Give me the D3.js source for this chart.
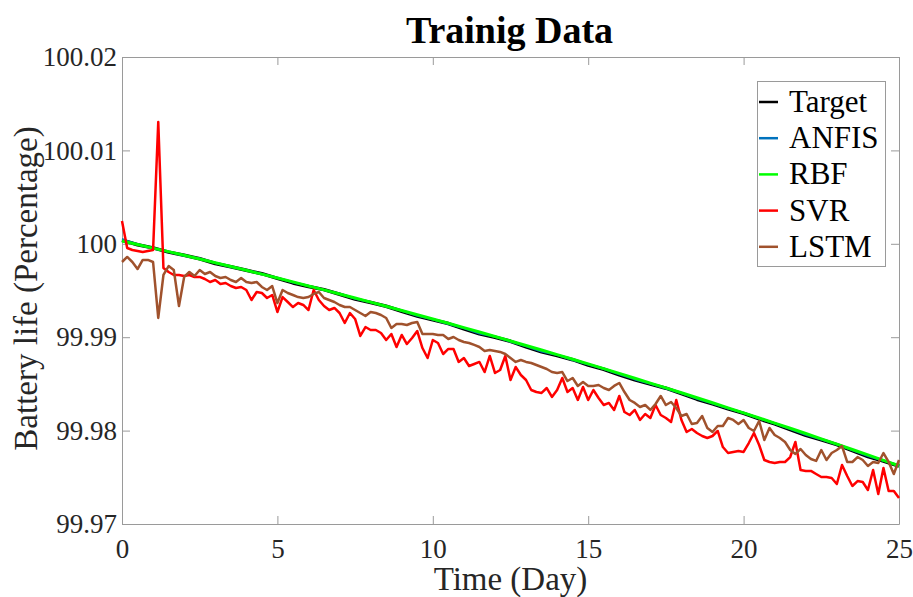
<!DOCTYPE html>
<html>
<head>
<meta charset="utf-8">
<script src="https://cdn.jsdelivr.net/npm/d3@7"></script>
<style>
  html, body { margin: 0; padding: 0; background: #fff; }
  svg { display: block; }
  text { font-family: "Liberation Serif", "Times New Roman", serif; }
</style>
</head>
<body>
<svg id="chart" width="913" height="597"></svg>
<script>
// ---- data -------------------------------------------------------------
const seriesNames = ["Target", "ANFIS", "RBF", "SVR", "LSTM"];
const seriesColors = ["#000000", "#0072bd", "#00ff00", "#ff0000", "#a0522d"];

const xTicks = [0, 5, 10, 15, 20, 25];
const yTicks = [99.97, 99.98, 99.99, 100, 100.01, 100.02];

// half-day samples for the smooth curves
const coarseDays = d3.range(51).map(i => i * 0.5);
// four-hour samples for SVR / LSTM
const fineDays = d3.range(151).map(i => i / 6);

const target = [100.0004, 99.99990, 99.99956, 99.99911, 99.99877, 99.99840, 99.99789, 99.99755, 99.99716, 99.99680,
  99.99630, 99.99581, 99.99543, 99.99509, 99.99460, 99.99408, 99.99371, 99.99331, 99.99278, 99.99226,
  99.99185, 99.99146, 99.99090, 99.99037, 99.99000, 99.98956, 99.98897, 99.98843, 99.98803, 99.98759,
  99.98702, 99.98657, 99.98597, 99.98543, 99.98497, 99.98454, 99.98395, 99.98336, 99.98286, 99.98232,
  99.98185, 99.98125, 99.98072, 99.98010, 99.97949, 99.97902, 99.97849, 99.97786, 99.97722, 99.97674, 99.97619];

const anfis = [100.0005, 99.99995, 99.99950, 99.99915, 99.99872, 99.99842, 99.99795, 99.99752, 99.99720, 99.99676,
  99.99635, 99.99585, 99.99547, 99.99505, 99.99466, 99.99412, 99.99375, 99.99328, 99.99284, 99.99230,
  99.99190, 99.99142, 99.99095, 99.99040, 99.99004, 99.98952, 99.98902, 99.98847, 99.98808, 99.98755,
  99.98708, 99.98660, 99.98602, 99.98548, 99.98501, 99.98450, 99.98400, 99.98340, 99.98290, 99.98236,
  99.98188, 99.98130, 99.98076, 99.98016, 99.97955, 99.97905, 99.97852, 99.97790, 99.97728, 99.97678, 99.97622];

const rbf = [100.0003, 99.99992, 99.99954, 99.99916, 99.99877, 99.99837, 99.99797, 99.99757, 99.99716, 99.99675,
  99.99634, 99.99592, 99.99549, 99.99507, 99.99463, 99.99420, 99.99376, 99.99331, 99.99286, 99.99241,
  99.99195, 99.99149, 99.99102, 99.99055, 99.99008, 99.98960, 99.98911, 99.98863, 99.98813, 99.98764,
  99.98714, 99.98663, 99.98612, 99.98561, 99.98509, 99.98457, 99.98405, 99.98352, 99.98298, 99.98244,
  99.98190, 99.98135, 99.98080, 99.98025, 99.97969, 99.97912, 99.97855, 99.97798, 99.97740, 99.97682, 99.97624];

const svr = [100.00244, 99.99955, 99.99934, 99.99923, 99.99912, 99.99923, 99.99934, 100.01304, 99.99741, 99.99698,
  99.99666, 99.99666, 99.99655, 99.99666, 99.99645, 99.99645, 99.99623, 99.99591, 99.99612, 99.99570,
  99.99580, 99.99548, 99.99527, 99.99538, 99.99505, 99.99398, 99.99484, 99.99473, 99.99420, 99.99452,
  99.99270, 99.99430, 99.99377, 99.99323, 99.99366, 99.99345, 99.99291, 99.99505, 99.99398, 99.99334,
  99.99291, 99.99313, 99.99259, 99.99152, 99.99259, 99.99195, 99.99013, 99.99109, 99.99077, 99.99077,
  99.99045, 99.98970, 99.99034, 99.98895, 99.99024, 99.98927, 99.98991, 99.99066, 99.98884, 99.98777,
  99.98970, 99.98938, 99.98820, 99.98874, 99.98874, 99.98735, 99.98777, 99.98692, 99.98713, 99.98735,
  99.98627, 99.98799, 99.98617, 99.98649, 99.98799, 99.98542, 99.98681, 99.98595, 99.98542, 99.98435,
  99.98413, 99.98403, 99.98456, 99.98360, 99.98435, 99.98563, 99.98413, 99.98456, 99.98328, 99.98467,
  99.98328, 99.98435, 99.98349, 99.98274, 99.98296, 99.98221, 99.98371, 99.98199, 99.98167, 99.98221,
  99.98114, 99.98178, 99.98135, 99.98274, 99.98167, 99.98135, 99.98092, 99.98328, 99.98114, 99.97985,
  99.98017, 99.97974, 99.97942, 99.97921, 99.97942, 99.97996, 99.97824, 99.97760, 99.97771, 99.97782,
  99.97771, 99.97867, 99.97974, 99.97846, 99.97685, 99.97664, 99.97653, 99.97664, 99.97664, 99.97717,
  99.97878, 99.97578, 99.97568, 99.97568, 99.97535, 99.97503, 99.97503, 99.97493, 99.97428, 99.97632,
  99.97514, 99.97407, 99.97460, 99.97450, 99.97364, 99.97578, 99.97321, 99.97600, 99.97353, 99.97353, 99.97278];

const lstm = [99.99805, 99.99859, 99.99805, 99.99730, 99.99827, 99.99827, 99.99805, 99.99206, 99.99666, 99.99762,
  99.99719, 99.99334, 99.99645, 99.99698, 99.99655, 99.99719, 99.99677, 99.99698, 99.99655, 99.99634,
  99.99645, 99.99612, 99.99591, 99.99634, 99.99591, 99.99580, 99.99591, 99.99538, 99.99505, 99.99548,
  99.99366, 99.99505, 99.99473, 99.99452, 99.99430, 99.99420, 99.99430, 99.99463, 99.99484, 99.99420,
  99.99398, 99.99377, 99.99345, 99.99323, 99.99323, 99.99291, 99.99259, 99.99227, 99.99270, 99.99259,
  99.99238, 99.99206, 99.99099, 99.99141, 99.99141, 99.99131, 99.99152, 99.99163, 99.99034, 99.99034,
  99.99034, 99.99024, 99.99024, 99.98981, 99.99002, 99.98970, 99.98949, 99.98938, 99.98917, 99.98895,
  99.98852, 99.98863, 99.98852, 99.98842, 99.98820, 99.98777, 99.98735, 99.98756, 99.98735, 99.98724,
  99.98702, 99.98681, 99.98660, 99.98627, 99.98617, 99.98627, 99.98531, 99.98563, 99.98478, 99.98520,
  99.98478, 99.98478, 99.98488, 99.98456, 99.98435, 99.98478, 99.98510, 99.98413, 99.98328, 99.98296,
  99.98253, 99.98274, 99.98221, 99.98285, 99.98371, 99.98274, 99.98306, 99.98242, 99.98156, 99.98178,
  99.98071, 99.98081, 99.98156, 99.98028, 99.97985, 99.98049, 99.98049, 99.98135, 99.98114, 99.98071,
  99.98114, 99.98028, 99.97996, 99.98103, 99.97899, 99.98028, 99.97953, 99.97921, 99.97878, 99.97792,
  99.97750, 99.97803, 99.97739, 99.97696, 99.97675, 99.97792, 99.97685, 99.97760, 99.97792, 99.97835,
  99.97664, 99.97664, 99.97717, 99.97685, 99.97621, 99.97664, 99.97653, 99.97760, 99.97664, 99.97535, 99.97685];

// ---- layout -----------------------------------------------------------
const svg = d3.select("#chart");
const plot = { left: 122, right: 899, top: 57, bottom: 524 };
const axisColor = "#9a9a9a";
const textColor = "#262626";

const x = d3.scaleLinear().domain([0, 25]).range([plot.left, plot.right]);
const y = d3.scaleLinear().domain([99.97, 100.02]).range([plot.bottom, plot.top]);

const fmtY = d => String(+d.toFixed(2));

// ---- axes (ticks point inward, box on all four sides) ------------------
function styleAxis(g) {
  g.selectAll(".domain").attr("stroke", axisColor).attr("stroke-width", 1);
  g.selectAll(".tick line").attr("stroke", axisColor).attr("stroke-width", 1);
  g.selectAll(".tick text")
    .attr("fill", textColor)
    .style("font-family", '"Liberation Serif", "Times New Roman", serif')
    .style("font-size", "27px");
}

svg.append("g")
  .attr("transform", `translate(0,${plot.bottom})`)
  .call(d3.axisBottom(x).tickValues(xTicks).tickSizeInner(-8).tickSizeOuter(0).tickPadding(15))
  .call(styleAxis);

svg.append("g")
  .attr("transform", `translate(0,${plot.top})`)
  .call(d3.axisTop(x).tickValues(xTicks).tickSizeInner(-8).tickSizeOuter(0).tickFormat(""))
  .call(styleAxis);

svg.append("g")
  .attr("transform", `translate(${plot.left},0)`)
  .call(d3.axisLeft(y).tickValues(yTicks).tickSizeInner(-8).tickSizeOuter(0).tickPadding(5).tickFormat(fmtY))
  .call(styleAxis);

svg.append("g")
  .attr("transform", `translate(${plot.right},0)`)
  .call(d3.axisRight(y).tickValues(yTicks).tickSizeInner(-8).tickSizeOuter(0).tickFormat(""))
  .call(styleAxis);

// ---- series -----------------------------------------------------------
const line = d3.line().x(d => x(d[0])).y(d => y(d[1]));
const zipWith = (days, vals) => days.map((t, i) => [t, vals[i]]);

const layers = [
  { data: zipWith(coarseDays, target), color: seriesColors[0], width: 3.5 },
  { data: zipWith(coarseDays, anfis),  color: seriesColors[1], width: 2 },
  { data: zipWith(coarseDays, rbf),    color: seriesColors[2], width: 3 },
  { data: zipWith(fineDays, svr),      color: seriesColors[3], width: 2.5 },
  { data: zipWith(fineDays, lstm),     color: seriesColors[4], width: 2.5 }
];

svg.append("g").selectAll("path")
  .data(layers)
  .join("path")
  .attr("d", d => line(d.data))
  .attr("fill", "none")
  .attr("stroke", d => d.color)
  .attr("stroke-width", d => d.width)
  .attr("stroke-linejoin", "round");

// ---- title and axis labels ---------------------------------------------
svg.append("text")
  .attr("x", (plot.left + plot.right) / 2 - 1)
  .attr("y", 43)
  .attr("text-anchor", "middle")
  .attr("font-weight", "bold")
  .attr("font-size", 38)
  .attr("fill", "#000")
  .text("Trainig Data");

svg.append("text")
  .attr("x", (plot.left + plot.right) / 2)
  .attr("y", 590)
  .attr("text-anchor", "middle")
  .attr("font-size", 33)
  .attr("fill", textColor)
  .text("Time (Day)");

svg.append("text")
  .attr("transform", `translate(37,${(plot.top + plot.bottom) / 2 - 2}) rotate(-90)`)
  .attr("text-anchor", "middle")
  .attr("font-size", 33)
  .attr("fill", textColor)
  .text("Battery life (Percentage)");

// ---- legend -----------------------------------------------------------
const legend = svg.append("g");
legend.append("rect")
  .attr("x", 757.5).attr("y", 81.5)
  .attr("width", 128).attr("height", 185)
  .attr("fill", "#fff")
  .attr("stroke", axisColor)
  .attr("stroke-width", 1);

const rowY = i => 102 + i * 36.2;
const rows = legend.selectAll("g.row")
  .data(seriesNames)
  .join("g")
  .attr("class", "row")
  .attr("transform", (d, i) => `translate(0,${rowY(i)})`);

rows.append("line")
  .attr("x1", 759).attr("x2", 778)
  .attr("y1", 0).attr("y2", 0)
  .attr("stroke", (d, i) => seriesColors[i])
  .attr("stroke-width", 2.5);

rows.append("text")
  .attr("x", 789)
  .attr("y", 10)
  .attr("font-size", 31)
  .attr("fill", "#000")
  .text(d => d);
</script>
</body>
</html>
